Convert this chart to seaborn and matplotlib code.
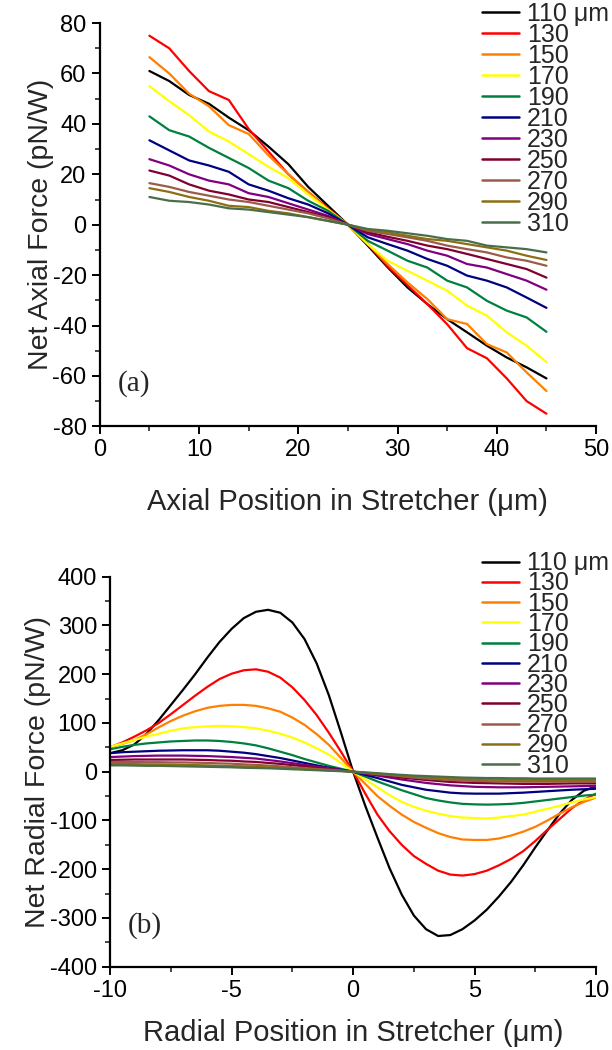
import matplotlib
matplotlib.use("Agg")
import matplotlib.pyplot as plt
import pandas as pd
import seaborn as sns
from matplotlib.ticker import MultipleLocator

sns.set_style("ticks")
plt.rcParams["font.family"] = ["Liberation Sans", "DejaVu Sans"]
plt.rcParams["axes.unicode_minus"] = False

sizes = ["110", "130", "150", "170", "190", "210", "230", "250", "270", "290", "310"]
colors = ["#000000", "#FF0000", "#FF8000", "#FFFF00", "#008040", "#000080",
          "#800080", "#800030", "#9C5B4A", "#8C6F14", "#4A6E4A"]

# (a) axial force, pN/W
axial_x = [5, 7, 9, 11, 13, 15, 17, 19, 21, 23, 25, 27, 29, 31, 33, 35, 37, 39, 41, 43, 45]
axial_110 = [61, 57, 51.5, 48, 42.5, 37.5, 31, 24, 15, 7.5, 0, -8.3, -16.9, -24.9, -31.5, -37.5, -42.7, -48, -52.7, -56.6, -61]
axial_130 = [75, 70, 61, 53, 49.5, 38, 29, 20, 13, 6.5, 0, -7.5, -16.5, -24, -31.5, -39.5, -49, -53, -61, -70, -75]
axial_150 = [66.5, 60, 52, 47, 39.5, 36, 27.5, 20, 13, 6, 0, -7.7, -15.6, -22.9, -29.5, -37.5, -39.4, -47.4, -50.7, -58.6, -66]
axial_170 = [55, 49, 43.5, 37, 33, 28, 23, 18.5, 12, 6, 0, -7.7, -14.3, -18.3, -22.2, -26.2, -32.1, -36.1, -42.7, -48, -54.5]
axial_190 = [43, 37.5, 35, 30.5, 26.5, 22.5, 17.5, 14.5, 9.5, 5.5, 0, -6.4, -10.3, -14.3, -17, -22.2, -24.9, -30.2, -34.1, -36.8, -42.5]
axial_210 = [33.5, 29.5, 25.5, 23.5, 21, 16, 13.5, 10.5, 8, 4.5, 0, -5, -7.7, -10.3, -13.6, -16.3, -20.2, -22.2, -24.9, -28.9, -33]
axial_230 = [26, 23.5, 20, 17.5, 16, 12.5, 11, 8.5, 6, 3.5, 0, -3.7, -5.7, -7.7, -10.3, -12.3, -15.6, -17, -19.6, -22.2, -25.8]
axial_250 = [21.5, 19.5, 16, 13.5, 12, 10, 9, 7, 5, 3, 0, -3, -4.8, -6.4, -8.3, -9.7, -11.6, -13.6, -15.6, -17.6, -21]
axial_270 = [16.5, 15, 13, 11.5, 10, 9, 7.5, 6, 4.5, 2.5, 0, -2.4, -3.7, -5, -6.4, -8.3, -9.7, -11, -13, -14.3, -16.3]
axial_290 = [14.5, 13, 11, 9.5, 7.5, 7, 5.5, 4.5, 3, 1.5, 0, -2.1, -3, -4.4, -5.7, -6.4, -7.7, -9, -10.3, -12.3, -14]
axial_310 = [11, 9.5, 9, 8, 6.5, 6, 5, 4, 3, 1.5, 0, -1.7, -2.4, -3.4, -4.4, -5.7, -6.4, -8.3, -9, -9.7, -11]

# (b) radial force, pN/W
radial_x = [-10, -9.5, -9, -8.5, -8, -7.5, -7, -6.5, -6, -5.5, -5, -4.5, -4, -3.5, -3, -2.5, -2, -1.5, -1, -0.5,
            0, 0.5, 1, 1.5, 2, 2.5, 3, 3.5, 4, 4.5, 5, 5.5, 6, 6.5, 7, 7.5, 8, 8.5, 9, 9.5, 10]
radial_110 = [38, 44, 56, 78, 106, 137, 168, 200, 234, 266, 293, 315, 328, 332, 326, 306, 272, 222, 157, 80,
              0, -70, -135, -198, -252, -295, -323, -337, -335, -323, -305, -283, -256, -226, -192, -155, -120, -86, -58, -39, -30]
radial_130 = [50, 60, 72, 85, 100, 118, 137, 156, 174, 190, 201, 208, 210, 205, 193, 173, 147, 116, 80, 41,
              0, -45, -88, -122, -150, -173, -189, -203, -211, -213, -210, -203, -192, -179, -163, -142, -119, -97, -75, -58, -45]
radial_150 = [51, 57, 65, 77, 91, 104, 115, 124, 131, 135, 137, 137, 135, 130, 123, 111, 96, 77, 55, 28,
              0, -25, -50, -70, -88, -103, -115, -126, -134, -139, -140, -140, -137, -131, -123, -113, -100, -86, -73, -62, -53]
radial_170 = [51, 58, 65, 72, 78, 84, 89, 91.5, 93, 94, 93, 91.5, 89, 84, 78, 70, 60, 48, 35, 18,
              0, -16, -32, -48, -62, -72, -80, -86, -91, -94, -95, -96, -94, -91, -88, -82, -76, -70, -63, -57, -52]
radial_190 = [46, 51, 55, 58, 60, 62, 63, 64, 64, 63, 61, 58, 54, 48, 41, 34, 26, 19, 12, 6,
              0, -10, -20, -29, -38, -46, -54, -59, -63, -66, -67, -67.5, -67, -66, -64, -61, -58, -55, -52, -49, -47]
radial_210 = [38, 40, 41, 42, 43, 43.5, 44, 44, 44, 43, 41, 39, 36, 32, 28, 23, 18, 13, 8, 4,
              0, -6.5, -13, -20, -27, -32, -37, -40, -43, -44.5, -45, -45, -45, -44, -43, -41.5, -40, -38.5, -37, -36, -35]
radial_230 = [30, 31, 32, 32.5, 33, 33, 33, 32.5, 32, 31, 30, 28.5, 27, 24, 21, 17.5, 14, 10.5, 7, 3.5,
              0, -4, -8, -12, -16, -19.5, -23, -25.5, -28, -29.5, -31, -31.5, -32, -32, -32, -31.5, -31, -30.5, -30, -29.5, -29]
radial_250 = [24, 24.5, 25, 25, 25, 25, 25, 24.5, 24, 23, 22.5, 21, 20, 18, 16, 13.5, 11, 8, 5.5, 2.5,
              0, -3, -6, -9, -12, -14.5, -17, -19, -21, -22, -23, -23.5, -24, -24.5, -25, -25, -25, -24.5, -24, -24, -24]
radial_270 = [20, 20, 20, 19.5, 19.5, 19, 19, 18.5, 18, 17, 16.5, 15, 14, 12.5, 11, 9, 7.5, 5.5, 4, 2,
              0, -2.5, -5, -7, -9.5, -12, -14, -15.5, -17, -18, -19, -19.5, -20, -20, -20.5, -20.5, -20.5, -20.5, -20, -20, -20]
radial_290 = [16, 16, 15.5, 15, 15, 14.5, 14, 13.5, 13, 12, 11.5, 11, 10, 9, 8, 7, 5.5, 4, 2.5, 1.5,
              0, -2, -4, -6, -8, -10, -11.5, -13, -14, -15, -15.5, -16, -16.5, -17, -17, -17, -17, -17, -17, -17, -17]
radial_310 = [13, 13, 12.5, 12, 12, 11.5, 11, 10.5, 10, 9.5, 9, 8, 7.5, 7, 6, 5, 4, 3, 2, 1,
              0, -1.5, -3, -5, -6.5, -8, -9, -10, -11, -12, -12.5, -13, -13, -13.5, -13.5, -14, -14, -14, -14, -14, -14]

axial_series = [axial_110, axial_130, axial_150, axial_170, axial_190, axial_210,
                axial_230, axial_250, axial_270, axial_290, axial_310]
radial_series = [radial_110, radial_130, radial_150, radial_170, radial_190, radial_210,
                 radial_230, radial_250, radial_270, radial_290, radial_310]


def _long_frame(x, series):
    rows = []
    for size, ys in zip(sizes, series):
        for xv, yv in zip(x, ys):
            rows.append({"pos": xv, "force": yv, "size": size})
    return pd.DataFrame(rows)


def _style_axis(ax):
    sns.despine(ax=ax)
    for side in ["left", "bottom"]:
        ax.spines[side].set_linewidth(1.6)
        ax.spines[side].set_color("black")
    ax.tick_params(which="major", direction="out", length=6, width=1.4, labelsize=17, colors="black")
    ax.tick_params(which="minor", direction="out", length=3.5, width=1.2)


def _panel(fig, rect, x, series, xlim, ylim, xmaj, ymaj, xlabel, ylabel, tag,
           legend_anchor, xpad, spacing):
    ax = fig.add_axes(rect)
    df = _long_frame(x, series)
    sns.lineplot(data=df, x="pos", y="force", hue="size", hue_order=sizes,
                 palette=dict(zip(sizes, colors)), linewidth=1.6, ax=ax,
                 sort=False, estimator=None)
    ax.set_xlim(*xlim)
    ax.set_ylim(*ylim)
    ax.xaxis.set_major_locator(MultipleLocator(xmaj))
    ax.xaxis.set_minor_locator(MultipleLocator(xmaj / 2))
    ax.yaxis.set_major_locator(MultipleLocator(ymaj))
    ax.yaxis.set_minor_locator(MultipleLocator(ymaj / 2))
    ax.set_xlabel(xlabel, fontsize=21, labelpad=xpad)
    ax.set_ylabel(ylabel, fontsize=20.5, labelpad=-1)
    _style_axis(ax)

    handles, labels = ax.get_legend_handles_labels()
    labels = [labels[0] + " \u03bcm"] + labels[1:]
    leg = ax.legend(handles, labels, loc="upper left", bbox_to_anchor=legend_anchor,
                    bbox_transform=fig.transFigure, frameon=False, fontsize=18,
                    handlelength=1.5, handletextpad=0.3, labelspacing=spacing,
                    borderpad=0, borderaxespad=0)
    for line in leg.get_lines():
        line.set_linewidth(1.8)
    leg.set_zorder(5)

    ax.text(0.036, 0.105, tag, transform=ax.transAxes, fontsize=21,
            family=["Liberation Serif", "DejaVu Serif"], va="center", ha="left")
    return ax


fig = plt.figure(figsize=(6.12, 10.5), dpi=100)

_panel(fig, [0.163, 0.594, 0.811, 0.384], axial_x, axial_series,
       (0, 50), (-80, 80), 10, 20,
       "Axial Position in Stretcher (\u03bcm)", "Net Axial Force (pN/W)", "(a)",
       (0.787, 0.998), 19, -0.12)

_panel(fig, [0.180, 0.0793, 0.794, 0.3715], radial_x, radial_series,
       (-10, 10), (-400, 400), 5, 100,
       "Radial Position in Stretcher (\u03bcm)", "Net Radial Force (pN/W)", "(b)",
       (0.787, 0.475), 12, -0.15)

fig.savefig("out.png", dpi=100)
